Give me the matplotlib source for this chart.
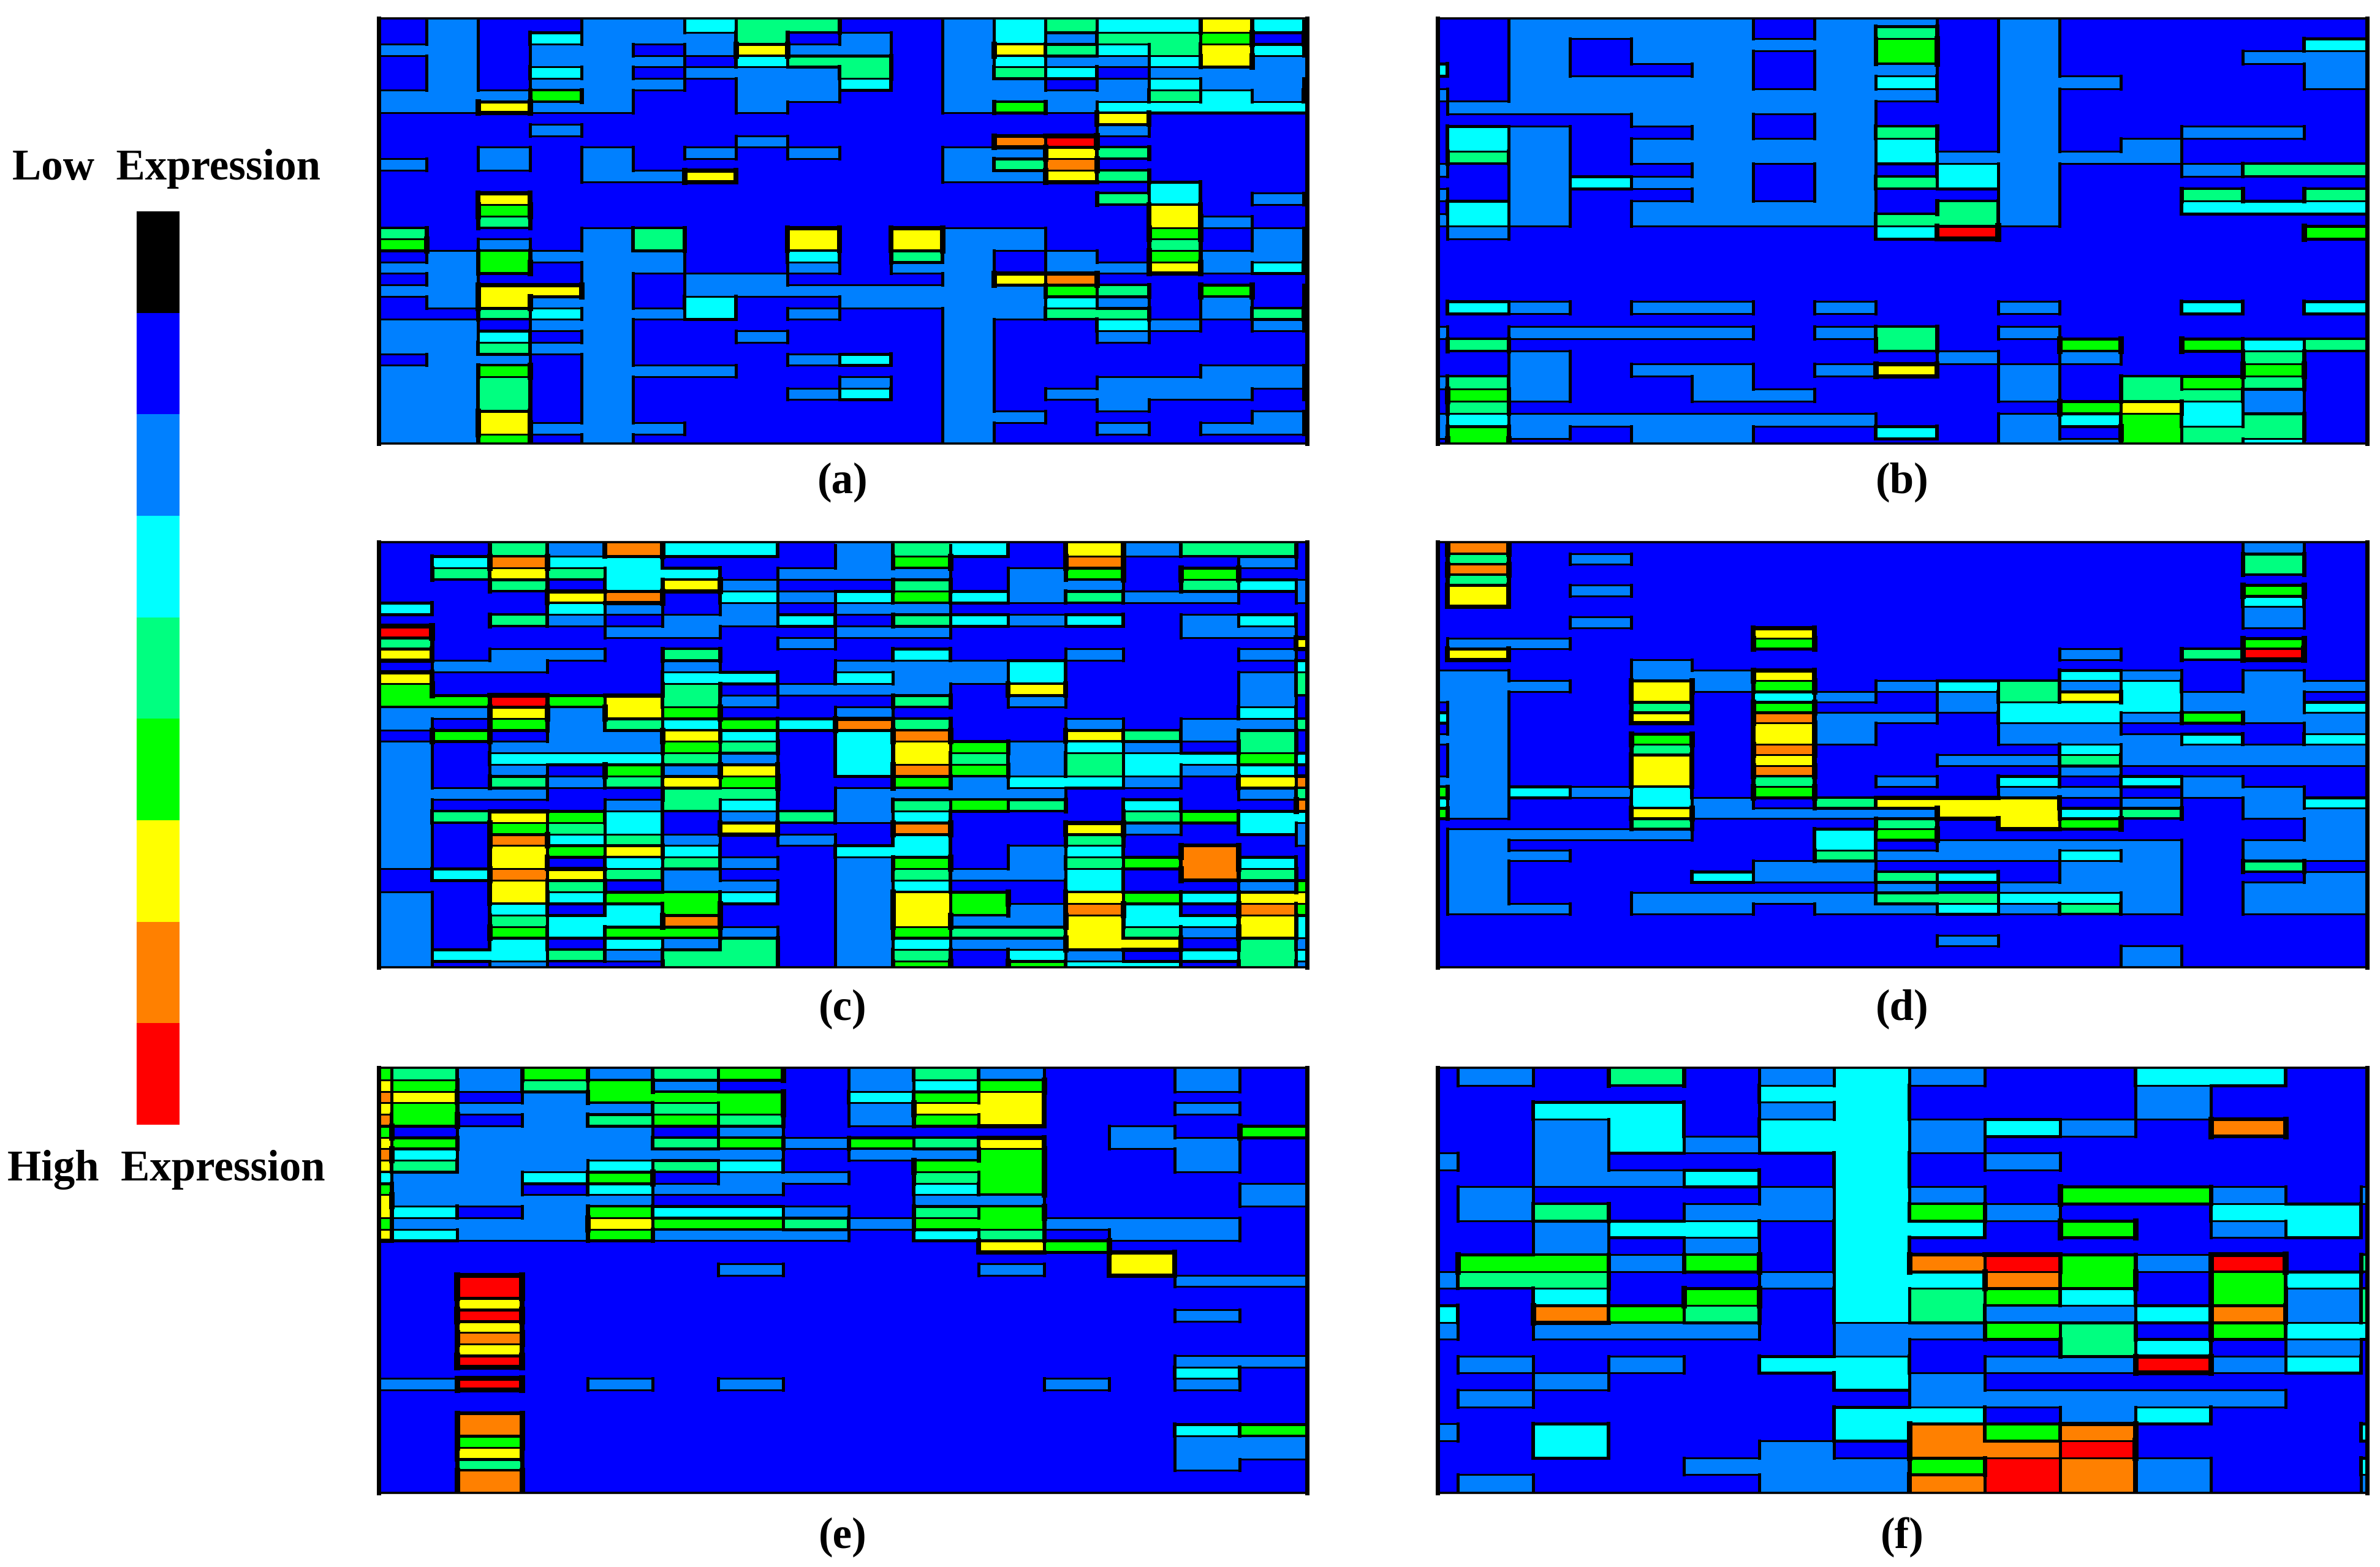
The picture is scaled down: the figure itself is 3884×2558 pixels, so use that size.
import numpy as np
import matplotlib
matplotlib.use("Agg")
import matplotlib.pyplot as plt
from matplotlib.collections import LineCollection
from matplotlib.colors import ListedColormap

# expression level per cell, one digit per cell, rows top to bottom
panel_a = [
    "1211223441123433634", "1213222412123244514", "2212212622126434634", "1212221344123223622",
    "1213212224124312222", "1212221223122123221", "2225211221122224324", "2262211211125233333",
    "1111111111111161111", "1112111111111121111", "1111111211117811111", "1121212121122641111",
    "2121211111124711111", "1111226111122641111", "1111111111111113111", "1161111111111143121",
    "1151111111111116111", "1141111111111116211", "4111241161622115121", "5121241161622114121",
    "1252221131421215221", "2251221121221226231", "1211212211126711111", "2266212222222541512",
    "1262213112222321212", "1143223121122441241", "2212211111121132121", "2231211211121121111",
    "2242211111121111111", "1221211123121111111", "2251222111121111221", "2241211112121122221",
    "2241211123121222212", "2241211111121121111", "2261211111122111121", "2262221111121121221",
    "2251211111121111111",
]
panel_b = [
    "1122221221211111", "1122221241211111", "1121222251211113", "1121221251211122",
    "3121121221211112", "1122221231221112", "2122222221211111", "1222222211211111",
    "1111221211211111", "1321121241211221", "1321222231212111", "1421222232222111",
    "2121121213211244", "1123221243211111", "2121121211211414", "1321222214211333",
    "2321222244211111", "1211111138111115", "1111111111111111", "1111111111111111",
    "1111111111111111", "1111111111111111", "1111111111111111", "1321221211211313",
    "1111111111111111", "2122221241211111", "1411111141151534", "1121111112121141",
    "1121221261211151", "2421121111214541", "1521122111214421", "1411111111156321",
    "2322222211235341", "2521221131215441", "1511221111225431",
]
panel_c = [
    "11427331243162441", "13733111251171121", "14643312221251511", "11413621141221432",
    "11167132353242212", "31132121221111111", "11421223143231231", "81112211221111221",
    "41111112111111116", "61221411131121121", "12211211222311113", "61111331322311124",
    "51111412221611124", "55856421141211121", "22626511211111131", "21524353741121224",
    "15122631371164241", "21222541365232141", "21333421364243353", "21215261375243231",
    "21424651152332167", "22211441222211124", "21112431245413117", "24653124231114533",
    "21543161171162132", "21734212131141112", "21656311331231711", "21613421251245731",
    "13764211242231741", "11641221231131125", "21635531265165366", "21313511265273175",
    "21433711262263363", "21535521254464263", "21313241232266142", "23342441241321343",
    "21211441251533142",
]
panel_d = [
    "1711111111111121", "1412111111111141", "1711111111111141", "1411111111111111",
    "1612111111111151", "1611111111111131", "1111111111111121", "1112111111111121",
    "1111116111111111", "1221115111111151", "1611111111121481", "1111211111111111",
    "2211226111132121", "2221625123423122", "2211613212463221", "1211415112333223",
    "3211617221332522", "1211116211221112", "2211516211222313", "1211417111132222",
    "1211616112242222", "1211617111121111", "2211614121313211", "5232315111221221",
    "3211321466612123", "5211622226634122", "1111411141651112", "1222211351111112",
    "1211111312222122", "1221111422232122", "1211112211122141", "1211132243122112",
    "1211111121222122", "1211222244332122", "1221221223242122", "1111111111111111",
    "1111111111111111", "1111111112111111", "1111111111112111", "1111111111112111",
]
panel_e = [
    "542524512421121", "652452112351121", "761255513561111", "652224512661121",
    "751245412561111", "512221211111215", "652224525461221", "732222212251121",
    "642234311551121", "322351221451111", "522132211351112", "622221111221112",
    "631253321451111", "522265542552221", "632252221341221", "111111111165111",
    "111111111111611", "111111211121611", "118111111111122", "118111111111111",
    "116111111111111", "118111111111121", "116111111111111", "117111111111111",
    "116111111111111", "118111111111122", "111111111111131", "228121211112121",
    "111111111111111", "111111111111111", "117111111111111", "117111111111135",
    "115111111111122", "116111111111122", "114111111111121", "117111111111111",
    "117111111111111",
]
panel_f = [
    "12141232113311", "11111331112111", "11331231112111", "11231332321711",
    "11232332111111", "21211131211111", "11223131111111", "12111232155212",
    "12412235211331", "11233133151231", "11212131111111", "15525137852814",
    "24411233751531", "11315134531524", "31754134223724", "21222122541533",
    "11111121143121", "12121331228231", "11211132111111", "12111112222211",
    "11111133123111", "21311137571113", "11311217781111", "11112225872113",
    "12111227872112",
]
panel_names = ["(a)", "(b)", "(c)", "(d)", "(e)", "(f)"]
level_colors = ["#000000", "#0000ff", "#0080ff", "#00ffff", "#00ff80",
                "#00ff00", "#ffff00", "#ff8000", "#ff0000"]
colorbar_levels = [0, 1, 2, 3, 4, 5, 6, 7, 8]
low_label = "Low  Expression"
high_label = "High  Expression"

W, H = 3884, 2558
FONT = "Liberation Serif"
cmap = ListedColormap(level_colors)

# axes box in pixels, then the part of the cell grid that shows in it
# (left, right, top, bottom), (xlim left, xlim right, ylim top, ylim bottom)
layout = [
    (panel_a, (618, 2133, 30, 724), (0.07, 18.07, -0.24, 36.82)),
    (panel_b, (2346, 3863, 30, 724), (0.84, 16.03, 0.38, 34.38)),
    (panel_c, (618, 2133, 885, 1579), (0.075, 16.19, -0.24, 36.52)),
    (panel_d, (2346, 3863, 885, 1579), (0.84, 16.03, -0.07, 40.03)),
    (panel_e, (618, 2133, 1743, 2437), (0.80, 15.03, -0.06, 36.96)),
    (panel_f, (2346, 3863, 1743, 2437), (0.73, 13.08, -0.04, 25.08)),
]
label_y = [787, 787, 1647, 1647, 2509, 2509]


def add_axes_px(fig, left, right, top, bottom):
    return fig.add_axes([left / W, 1 - bottom / H, (right - left) / W, (bottom - top) / H])


def px(n):
    return n * 72 / 100


def draw_edges(ax, grid):
    """Black contour between unlike cells, heavier for bigger level jumps."""
    nrows, ncols = grid.shape
    segs, widths = [], []
    for i in range(nrows):
        for j in range(ncols - 1):
            d = abs(int(grid[i, j]) - int(grid[i, j + 1]))
            if d:
                segs.append([(j + 1, i), (j + 1, i + 1)])
                widths.append(px(5 + 0.75 * (d - 1)))
    for i in range(nrows - 1):
        for j in range(ncols):
            d = abs(int(grid[i, j]) - int(grid[i + 1, j]))
            if d:
                segs.append([(j, i + 1), (j + 1, i + 1)])
                widths.append(px(2.8 + 0.6 * (d - 1)))
    lines = LineCollection(segs, colors="black", linewidths=widths,
                           capstyle="projecting", antialiased=False)
    ax.add_collection(lines)


def draw_panel(fig, rows, box, lims, name, y_text):
    grid = np.array([[int(c) for c in row] for row in rows])
    nrows, ncols = grid.shape
    x_edges = np.arange(ncols + 1, dtype=float)
    y_edges = np.arange(nrows + 1, dtype=float)
    # outer cells run past the frame
    x_edges[0], x_edges[-1] = -1, ncols + 1
    y_edges[0], y_edges[-1] = -1, nrows + 1

    ax = add_axes_px(fig, *box)
    ax.pcolormesh(x_edges, y_edges, grid, cmap=cmap, vmin=-0.5, vmax=8.5,
                  antialiased=False, linewidth=0)
    draw_edges(ax, grid)
    ax.set_xlim(lims[0], lims[1])
    ax.set_ylim(lims[3], lims[2])
    ax.set_xticks([])
    ax.set_yticks([])
    for side, lw in (("left", 7), ("right", 7), ("top", 3.6), ("bottom", 3.6)):
        ax.spines[side].set_linewidth(px(lw))
        ax.spines[side].set_color("black")
    fig.text((box[0] + box[1]) / 2 / W, 1 - y_text / H, name, family=FONT,
             fontweight="bold", fontsize=51, ha="center", va="center")


def draw_colorbar(fig):
    ax = add_axes_px(fig, 223, 293, 345, 1836)
    ax.pcolormesh(np.array([colorbar_levels]).T, cmap=cmap, vmin=-0.5, vmax=8.5,
                  antialiased=False, linewidth=0)
    ax.invert_yaxis()
    ax.axis("off")
    fig.text(271 / W, 1 - 275 / H, low_label, family=FONT, fontweight="bold",
             fontsize=51, ha="center", va="center")
    fig.text(271 / W, 1 - 1910 / H, high_label, family=FONT, fontweight="bold",
             fontsize=51, ha="center", va="center")


fig = plt.figure(figsize=(W / 100, H / 100), dpi=100, facecolor="white")
draw_colorbar(fig)
for (rows, box, lims), name, y_text in zip(layout, panel_names, label_y):
    draw_panel(fig, rows, box, lims, name, y_text)
fig.savefig("out.png", dpi=100)
